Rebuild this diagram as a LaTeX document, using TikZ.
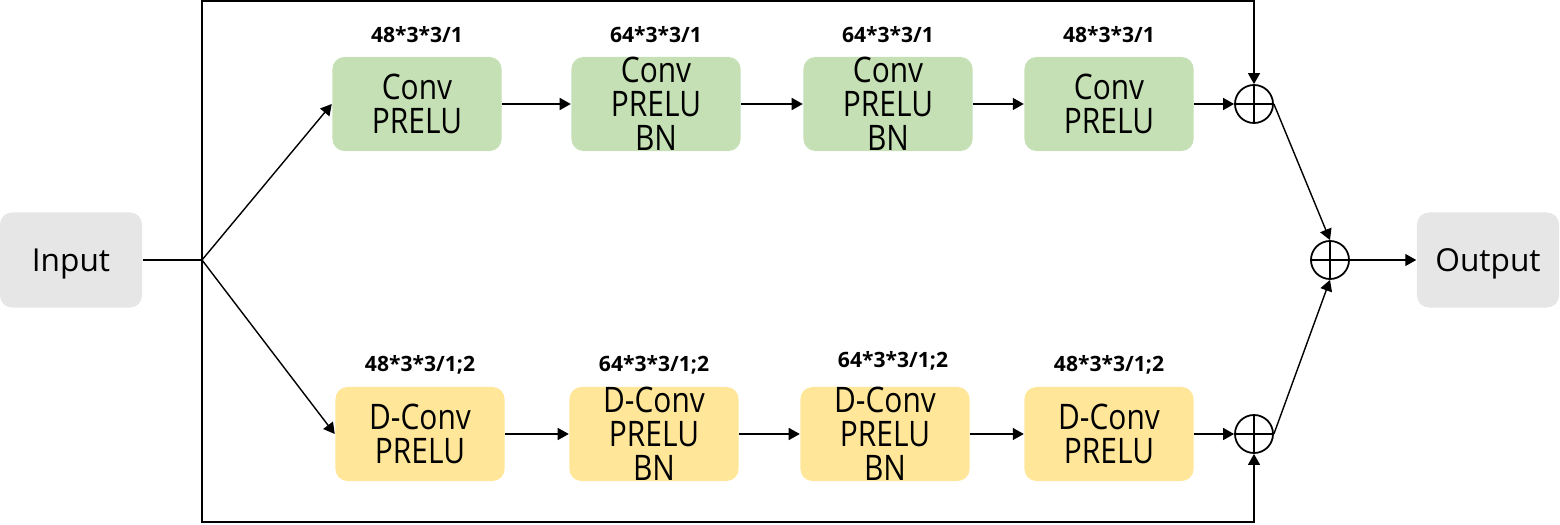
\documentclass[tikz,border=0pt]{standalone}
\usepackage{fontspec}
\setmainfont{Open Sans}
\newfontfamily\boxfont[FakeStretch=0.85]{Open Sans}
\usetikzlibrary{arrows.meta,positioning}
\definecolor{convgreen}{HTML}{C5E0B4}
\definecolor{dconvyellow}{HTML}{FFE699}
\definecolor{iogray}{HTML}{E7E6E6}
\tikzset{
  box/.style={rounded corners=0.12cm, minimum width=1.69cm, minimum height=0.94cm,
    align=center, inner sep=0pt, font=\boxfont\fontsize{10pt}{9.6pt}\selectfont},
  gbox/.style={box, fill=convgreen},
  ybox/.style={box, fill=dconvyellow},
  iobox/.style={box, fill=iogray, minimum width=1.42cm, minimum height=0.95cm,
    text depth=0pt, font=\fontsize{9pt}{10pt}\selectfont},
  lab/.style={font=\fontsize{6pt}{7pt}\selectfont\bfseries},
  arr/.style={-{Triangle[length=0.11cm,width=0.12cm]}},
  plus/.style={circle, draw, line width=0.5pt, minimum size=0.38cm, inner sep=0pt,
    path picture={\draw[line width=0.5pt]
      (path picture bounding box.north) -- (path picture bounding box.south)
      (path picture bounding box.west) -- (path picture bounding box.east);}},
}
\begin{document}
\begin{tikzpicture}[x=0.01cm, y=0.01cm, line width=0.4pt]
                    \useasboundingbox (0,0) rectangle (1560,524);
                    \node [iobox] (in) at (71,264) {Input};
                    \node [iobox] (out) at (1488,264) {Output};
                    \node [gbox] (c1) at (417,420) {Conv\\PRELU};
                    \node [gbox] (c2) at (656,420) {Conv\\PRELU\\BN};
                    \node [gbox] (c3) at (888,420) {Conv\\PRELU\\BN};
                    \node [gbox] (c4) at (1109,420) {Conv\\PRELU};
                    \node [ybox] (d1) at (420,90) {D-Conv\\PRELU};
                    \node [ybox] (d2) at (654,90) {D-Conv\\PRELU\\BN};
                    \node [ybox] (d3) at (885,90) {D-Conv\\PRELU\\BN};
                    \node [ybox] (d4) at (1109,90) {D-Conv\\PRELU};
                    \node [lab] (lc1) at (417,489) {48*3*3/1};
                    \node [lab] (lc2) at (656,489) {64*3*3/1};
                    \node [lab] (lc3) at (888,489) {64*3*3/1};
                    \node [lab] (lc4) at (1109,489) {48*3*3/1};
                    \node [lab] (ld1) at (420,159) {48*3*3/1;2};
                    \node [lab] (ld2) at (654,159) {64*3*3/1;2};
                    \node [lab] (ld3) at (893,163) {64*3*3/1;2};
                    \node [lab] (ld4) at (1109,159) {48*3*3/1;2};
                    \node [plus] (pa) at (1254,420) {};
                    \node [plus] (pb) at (1254,90) {};
                    \node [plus] (pc) at (1330,264) {};
                    \coordinate (fork) at (202,264);
                    \coordinate (topr) at (1254,523);
                    \coordinate (botr) at (1254,2);
                    \draw (in) -- (fork);
                    \draw [arr] (fork) -- (c1.west);
                    \draw [arr] (fork) -- (d1.west);
                    \draw [arr] (c1) -- (c2);
                    \draw [arr] (c2) -- (c3);
                    \draw [arr] (c3) -- (c4);
                    \draw [arr] (c4) -- (pa);
                    \draw [arr] (d1) -- (d2);
                    \draw [arr] (d2) -- (d3);
                    \draw [arr] (d3) -- (d4);
                    \draw [arr] (d4) -- (pb);
                    \draw [arr] (fork) |- (topr) -- (pa);
                    \draw [arr] (fork) |- (botr) -- (pb);
                    \draw [arr] (pa.east) -- (pc.north);
                    \draw [arr] (pb.east) -- (pc.south);
                    \draw [arr] (pc) -- (out);
                \end{tikzpicture}
\end{document}
